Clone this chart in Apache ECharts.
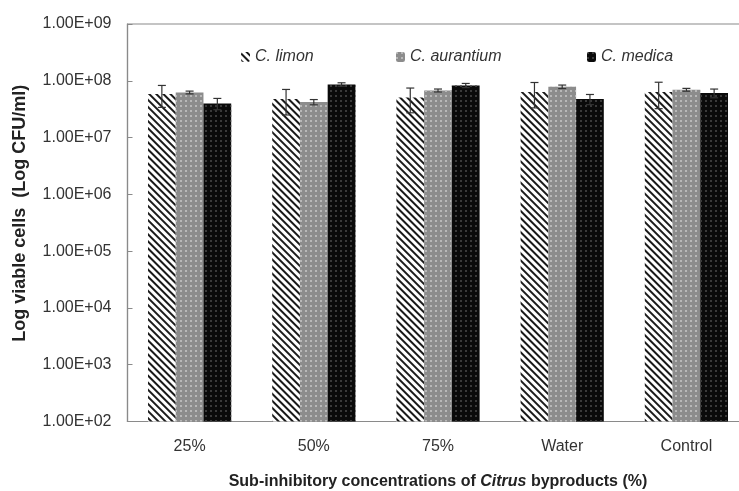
<!DOCTYPE html>
<html>
<head>
<meta charset="utf-8">
<script src="https://cdn.jsdelivr.net/npm/echarts@6/dist/echarts.min.js"></script>
<style>html,body{margin:0;padding:0;background:#fff;}#c{width:739px;height:491px;}</style>
</head>
<body>
<div id="c"></div>
<script>
var categories = ['25%', '50%', '75%', 'Water', 'Control'];
var seriesNames = ['C. limon', 'C. aurantium', 'C. medica'];
var limonValues = [5.84e7, 4.77e7, 5.09e7, 6.33e7, 6.33e7];
var limonErrors = [2.44e7, 2.27e7, 2.36e7, 3.0e7, 3.1e7];
var aurantiumValues = [6.23e7, 4.22e7, 6.76e7, 7.85e7, 6.95e7];
var aurantiumErrors = [0.35e7, 0.45e7, 0.4e7, 0.56e7, 0.4e7];
var medicaValues = [3.99e7, 8.62e7, 8.28e7, 4.77e7, 6.08e7];
var medicaErrors = [0.9e7, 0.6e7, 0.7e7, 0.97e7, 1.07e7];
var yTickLabels = ['1.00E+02', '1.00E+03', '1.00E+04', '1.00E+05', '1.00E+06', '1.00E+07', '1.00E+08', '1.00E+09'];

var allValues = [limonValues, aurantiumValues, medicaValues];
var allErrors = [limonErrors, aurantiumErrors, medicaErrors];

var styles = [
  {color: '#ffffff', decal: {symbol: 'rect', color: '#1a1a1a', dashArrayX: [1, 0], dashArrayY: [2, 2.5], rotation: Math.PI / 4, symbolSize: 1}},
  {color: '#8c8c8c', decal: {symbol: 'rect', color: '#b8b8b8', dashArrayX: [[1.5, 3]], dashArrayY: [1.5, 3], symbolSize: 1, rotation: 0}},
  {color: '#0a0a0a', decal: {symbol: 'rect', color: '#3a3a3a', dashArrayX: [[1.2, 2.5]], dashArrayY: [1.2, 2.5], symbolSize: 1, rotation: 0}}
];

var CAT_GAP = 0.33;
var series = [];
seriesNames.forEach(function (name, i) {
  series.push({
    name: name,
    type: 'bar',
    data: allValues[i],
    barGap: '0%',
    barCategoryGap: '33%',
    itemStyle: {color: styles[i].color, decal: styles[i].decal, borderWidth: 0},
    emphasis: {disabled: true}
  });
});
seriesNames.forEach(function (name, i) {
  var data = allValues[i].map(function (v, k) { return [k, v, allErrors[i][k]]; });
  series.push({
    type: 'custom',
    name: name + ' err',
    z: 10,
    data: data,
    renderItem: function (params, api) {
      var k = api.value(0), v = api.value(1), e = api.value(2);
      var cw = api.size([1, 0])[0];
      var bw = cw * (1 - CAT_GAP) / 3;
      var c = api.coord([k, v]);
      var x = c[0] + (i - 1) * bw;
      var top = api.coord([k, v + e])[1];
      var bot = api.coord([k, v - e])[1];
      var cap = 4;
      var st = {stroke: '#333', lineWidth: 1.2};
      return {type: 'group', children: [
        {type: 'line', shape: {x1: x, y1: top, x2: x, y2: bot}, style: st},
        {type: 'line', shape: {x1: x - cap, y1: top, x2: x + cap, y2: top}, style: st},
        {type: 'line', shape: {x1: x - cap, y1: bot, x2: x + cap, y2: bot}, style: st}
      ]};
    }
  });
});

function legendAt(name, left) {
  return {
    data: [name], left: left, top: 44, itemWidth: 9, itemHeight: 10, itemGap: 5,
    selectedMode: false,
    textStyle: {fontFamily: 'Liberation Sans, Arial, sans-serif', fontStyle: 'italic', fontSize: 16, color: '#333'}
  };
}

var chart = echarts.init(document.getElementById('c'), null, {renderer: 'canvas'});
chart.setOption({
  animation: false,
  backgroundColor: '#ffffff',
  legend: [legendAt(seriesNames[0], 236), legendAt(seriesNames[1], 391), legendAt(seriesNames[2], 582)],
  grid: {left: 127.5, top: 24, right: -9.5, bottom: 69.5, show: true, borderColor: '#8a8a8a', borderWidth: 1.2, containLabel: false, outerBoundsMode: 'none'},
  xAxis: {
    type: 'category',
    data: categories,
    axisLine: {lineStyle: {color: '#8a8a8a', width: 1.2}},
    axisTick: {inside: true, length: 5, lineStyle: {color: '#8a8a8a'}},
    axisLabel: {margin: 17, fontSize: 16, color: '#333', fontFamily: 'Liberation Sans, Arial, sans-serif'},
    name: '{b|Sub-inhibitory concentrations of }{bi|Citrus}{b| byproducts (%)}',
    nameLocation: 'middle',
    nameGap: 52,
    nameTextStyle: {
      rich: {
        b: {fontSize: 16, fontWeight: 'bold', color: '#222', fontFamily: 'Liberation Sans, Arial, sans-serif'},
        bi: {fontSize: 16, fontWeight: 'bold', fontStyle: 'italic', color: '#222', fontFamily: 'Liberation Sans, Arial, sans-serif'}
      }
    }
  },
  yAxis: {
    type: 'log',
    logBase: 10,
    min: 1e2,
    max: 1e9,
    splitLine: {show: false},
    axisLine: {show: true, lineStyle: {color: '#8a8a8a', width: 1.2}},
    axisTick: {show: true, inside: true, length: 5, lineStyle: {color: '#8a8a8a'}},
    axisLabel: {
      margin: 16, fontSize: 16, color: '#333', fontFamily: 'Liberation Sans, Arial, sans-serif',
      formatter: function (v) {
        var e = Math.round(Math.log10(v));
        return yTickLabels[e - 2] || '';
      }
    },
    name: 'Log viable cells  (Log CFU/ml)',
    nameLocation: 'middle',
    nameGap: 98,
    nameTextStyle: {fontSize: 18, fontWeight: 'bold', color: '#222', fontFamily: 'Liberation Sans, Arial, sans-serif', padding: [0, 0, 0, 19]}
  },
  series: series
});
</script>
</body>
</html>
